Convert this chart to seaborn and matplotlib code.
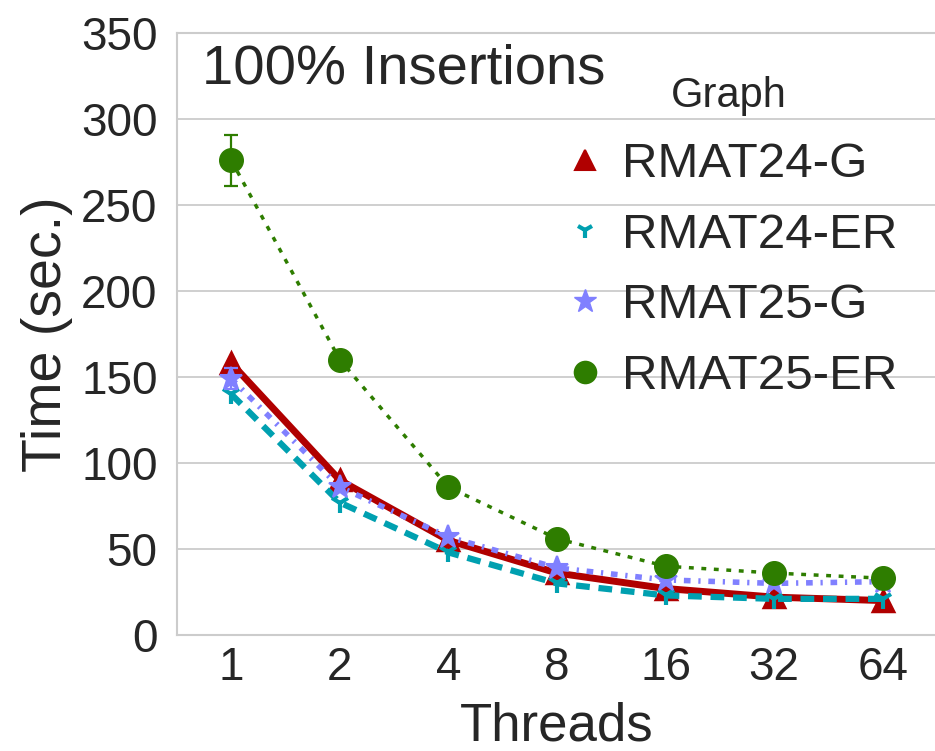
"""
Temps d'execution en fonction du nombre de threads (100% insertions).
"""

import numpy as np
import pandas as pd
import matplotlib
matplotlib.use("Agg")
import matplotlib.pyplot as plt
from matplotlib.lines import Line2D
import seaborn as sns

# Donnees
THREADS = ["1", "2", "4", "8", "16", "32", "64"]
GRAPHES = ["RMAT24-G", "RMAT24-ER", "RMAT25-G", "RMAT25-ER"]

rmat24_g = [158, 90, 55, 36, 27, 22, 20]
rmat24_er = [140, 77, 48, 30, 23, 21, 21]
rmat25_g = [149, 86, 57, 39, 32, 30, 31]
rmat25_er = [276, 160, 86, 56, 40, 36, 33]

# Barres d'erreur (bas, haut), seulement a 1 thread
err_bas = {"RMAT24-G": 0, "RMAT24-ER": 0, "RMAT25-G": 143, "RMAT25-ER": 261}
err_haut = {"RMAT24-G": 0, "RMAT24-ER": 0, "RMAT25-G": 155, "RMAT25-ER": 291}

COULEURS = ["#B00000", "#00A0B0", "#8080FF", "#2E7D00"]
MARQUEURS = ["^", "1", "*", "o"]
STYLES = ["-", (0, (2.2, 1.4)), (0, (1.2, 1.4, 0.4, 1.4)), (0, (1.4, 2.2))]
LARGEURS = [5.0, 4.5, 4.0, 2.5]
TAILLES = [14, 14, 17, 17]
BORDS = [2.5, 3.0, 1.5, 1.0]

series = {
    "RMAT24-G": rmat24_g,
    "RMAT24-ER": rmat24_er,
    "RMAT25-G": rmat25_g,
    "RMAT25-ER": rmat25_er,
}


def construire_df():
    lignes = []
    for g in GRAPHES:
        for t, v in zip(THREADS, series[g]):
            lignes.append({"Threads": t, "Time": v, "Graph": g})
    return pd.DataFrame(lignes)


def main():
    sns.set_style("whitegrid", {"grid.color": ".8", "axes.edgecolor": ".8"})
    plt.rcParams["font.family"] = ["Liberation Sans", "DejaVu Sans"]
    plt.rcParams["text.color"] = ".15"
    plt.rcParams["axes.labelcolor"] = ".15"
    plt.rcParams["xtick.color"] = ".15"
    plt.rcParams["ytick.color"] = ".15"

    df = construire_df()

    fig = plt.figure(figsize=(9.35, 7.51), dpi=100)
    ax = fig.add_axes([0.1893, 0.1545, 0.8128, 0.8015])

    for i, g in enumerate(GRAPHES):
        sous = df[df["Graph"] == g]
        sns.pointplot(
            data=sous, x="Threads", y="Time", order=THREADS,
            color=COULEURS[i], marker=MARQUEURS[i], linestyle="-",
            errorbar=None, ax=ax,
        )
        ligne = ax.lines[-1]
        ligne.set_linestyle(STYLES[i])
        ligne.set_linewidth(LARGEURS[i])
        ligne.set_markersize(TAILLES[i])
        ligne.set_markeredgewidth(BORDS[i])
        ligne.set_markeredgecolor(COULEURS[i])
        ligne.set_markerfacecolor(COULEURS[i])
        ligne.set_zorder(3 + i)
        if err_haut[g] > 0:
            v = series[g][0]
            ax.errorbar([0], [v], yerr=[[v - err_bas[g]], [err_haut[g] - v]],
                        fmt="none", ecolor=COULEURS[i], elinewidth=1.6,
                        capsize=5, capthick=1.6, zorder=3 + i)

    ax.set_ylim(0, 350)
    ax.set_xlim(-0.5, 6.5)
    ax.set_yticks(np.arange(0, 351, 50))
    ax.tick_params(axis="both", labelsize=33, length=0)
    ax.tick_params(axis="y", pad=14)
    ax.tick_params(axis="x", pad=8)
    ax.grid(axis="x", visible=False)
    ax.grid(axis="y", linewidth=1.3)
    for s in ax.spines.values():
        s.set_linewidth(1.5)

    ax.set_xlabel("Threads", fontsize=38, labelpad=8)
    ax.set_ylabel("Time (sec.)", fontsize=40, labelpad=6)

    ax.text(0.033, 0.94, "100% Insertions", transform=ax.transAxes,
            fontsize=40.5, va="center", ha="left")

    poignees = [
        Line2D([], [], color=COULEURS[i], marker=MARQUEURS[i], linestyle="",
               markersize=[15, 12, 17, 17][i],
               markeredgewidth=[1.5, 3.0, 1.0, 0.0][i])
        for i in range(len(GRAPHES))
    ]
    ax.legend(poignees, GRAPHES, title="Graph", loc="upper left",
              bbox_to_anchor=(0.505, 0.928), frameon=False,
              fontsize=35.5, title_fontsize=30, handlelength=1.0,
              handletextpad=0.25, labelspacing=0.52, borderpad=0,
              borderaxespad=0)

    fig.savefig("out.png", dpi=100)
    plt.close(fig)


if __name__ == "__main__":
    main()
